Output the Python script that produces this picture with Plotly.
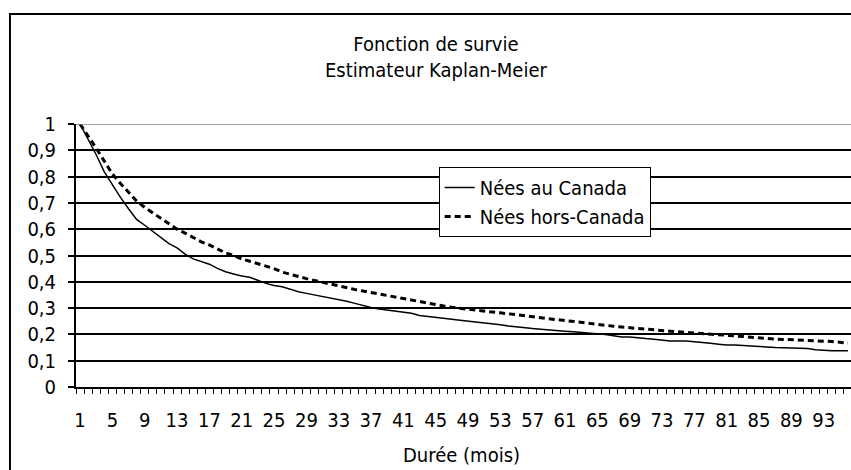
import plotly.graph_objects as go

# Kaplan-Meier survival estimates, by month (1..96)
months = list(range(1, 97))

nees_canada = [
    1.000, 0.943, 0.883, 0.818, 0.767, 0.721, 0.678, 0.637, 0.615, 0.592,
    0.567, 0.545, 0.529, 0.505, 0.487, 0.477, 0.467, 0.451, 0.438, 0.430,
    0.422, 0.417, 0.404, 0.394, 0.386, 0.381, 0.372, 0.362, 0.356, 0.350,
    0.344, 0.338, 0.334, 0.326, 0.318, 0.310, 0.302, 0.297, 0.293, 0.288,
    0.284, 0.280, 0.272, 0.269, 0.265, 0.262, 0.258, 0.254, 0.251, 0.248,
    0.244, 0.240, 0.237, 0.232, 0.228, 0.225, 0.222, 0.220, 0.217, 0.213,
    0.212, 0.210, 0.208, 0.205, 0.202, 0.200, 0.195, 0.190, 0.190, 0.186,
    0.184, 0.182, 0.178, 0.175, 0.175, 0.175, 0.172, 0.168, 0.166, 0.163,
    0.160, 0.160, 0.158, 0.156, 0.153, 0.150, 0.150, 0.149, 0.148, 0.148,
    0.146, 0.142, 0.139, 0.138, 0.138, 0.138,
]

nees_hors_canada = [
    1.000, 0.955, 0.908, 0.859, 0.810, 0.774, 0.741, 0.707, 0.683, 0.663,
    0.642, 0.620, 0.600, 0.585, 0.569, 0.552, 0.540, 0.525, 0.510, 0.500,
    0.487, 0.478, 0.469, 0.460, 0.450, 0.437, 0.428, 0.420, 0.412, 0.405,
    0.398, 0.390, 0.383, 0.377, 0.371, 0.365, 0.359, 0.353, 0.347, 0.341,
    0.335, 0.329, 0.324, 0.318, 0.313, 0.308, 0.303, 0.299, 0.295, 0.291,
    0.288, 0.285, 0.282, 0.278, 0.275, 0.272, 0.268, 0.264, 0.260, 0.256,
    0.253, 0.249, 0.246, 0.242, 0.238, 0.234, 0.231, 0.228, 0.225, 0.222,
    0.219, 0.217, 0.215, 0.212, 0.210, 0.208, 0.206, 0.204, 0.202, 0.200,
    0.198, 0.195, 0.192, 0.189, 0.186, 0.184, 0.182, 0.181, 0.180, 0.178,
    0.177, 0.176, 0.175, 0.173, 0.170, 0.167,
]

x_tick_vals = [1, 5, 9, 13, 17, 21, 25, 29, 33, 37, 41, 45, 49, 53, 57, 61,
               65, 69, 73, 77, 81, 85, 89, 93]
x_tick_labels = ["1", "5", "9", "13", "17", "21", "25", "29", "33", "37", "41",
                 "45", "49", "53", "57", "61", "65", "69", "73", "77", "81",
                 "85", "89", "93"]

FONT = "DejaVu Sans Condensed, DejaVu Sans, sans-serif"

fig = go.Figure()

fig.add_trace(go.Scatter(
    x=months, y=nees_canada, mode="lines", name="Nées au Canada",
    line=dict(color="black", width=1.5),
))
fig.add_trace(go.Scatter(
    x=months, y=nees_hors_canada, mode="lines", name="Nées hors-Canada",
    line=dict(color="black", width=3, dash="6px,4px"),
))

# gray plot-area border at the top
fig.add_shape(type="line", xref="paper", yref="y", x0=0, x1=1, y0=1, y1=1,
              line=dict(color="#808080", width=1.5), layer="above")
# chart-area frame (cut by the picture on the right and bottom)
fig.add_shape(type="rect", xref="paper", yref="paper",
              x0=-0.0852, x1=1.2, y0=-0.6, y1=1.418,
              line=dict(color="black", width=2), layer="above")

fig.add_annotation(text="Fonction de survie<br>Estimateur Kaplan-Meier",
                   xref="paper", yref="paper", x=0.4645, y=1.255,
                   xanchor="center", yanchor="middle", showarrow=False,
                   font=dict(family=FONT, size=20, color="black"))
fig.add_annotation(text="Durée (mois)", xref="paper", yref="paper",
                   x=0.4968, y=-0.2586, xanchor="center", yanchor="middle",
                   showarrow=False, font=dict(family=FONT, size=20, color="black"))

fig.update_layout(
    width=851, height=470,
    margin=dict(l=76, r=0, t=124, b=83),
    paper_bgcolor="white", plot_bgcolor="white",
    separators=", ",
    font=dict(family=FONT, size=20, color="black"),
    showlegend=True,
    legend=dict(
        x=0.468, y=0.8365, xanchor="left", yanchor="top",
        bgcolor="white", bordercolor="black", borderwidth=1,
        font=dict(family=FONT, size=20, color="black"),
        tracegroupgap=0,
    ),
)

fig.update_xaxes(
    range=[0.5, 96.38], showgrid=False, zeroline=False,
    showline=True, linecolor="black", linewidth=2,
    tickmode="array", tickvals=x_tick_vals, ticktext=x_tick_labels,
    ticks="", ticklabelstandoff=14,
    minor=dict(ticks="outside", ticklen=5, tickwidth=1, tickcolor="black",
               tick0=0.5, dtick=1, showgrid=False),
)
fig.update_yaxes(
    range=[0, 1], dtick=0.1, tick0=0,
    showgrid=True, gridcolor="black", gridwidth=1.5,
    zeroline=False, showline=True, linecolor="black", linewidth=2,
    ticks="outside", ticklen=6, tickcolor="black", tickwidth=1.5,
    ticklabelstandoff=8,
)

fig.write_html("out.html", config={"displayModeBar": False},
               post_script="document.body.style.margin='0';")
